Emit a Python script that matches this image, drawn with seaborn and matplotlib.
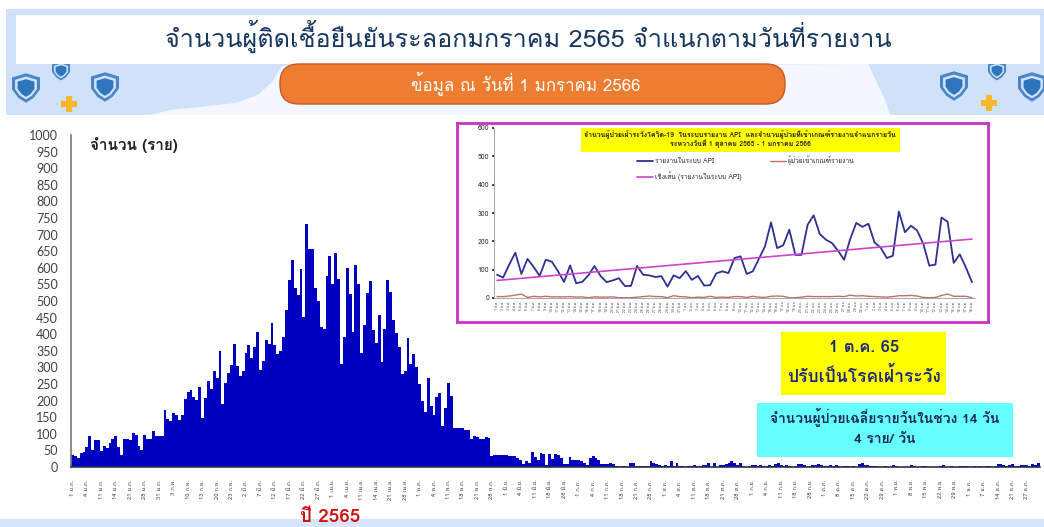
import matplotlib
matplotlib.use('Agg')
import matplotlib.pyplot as plt
import pandas as pd
import seaborn as sns
from matplotlib.patches import Rectangle, Polygon, FancyBboxPatch

# daily confirmed cases 2565
daily_cases = [37, 33, 28, 42, 45, 60, 92, 52, 80, 80, 47, 63, 58, 72, 83, 92, 60, 37, 83, 83, 80, 103, 95, 63, 52, 95, 83, 85, 107, 92, 92, 92,
               173, 145, 140, 162, 157, 142, 157, 205, 225, 232, 210, 203, 241, 148, 208, 258, 235, 288, 267, 348, 189, 252, 282, 308, 369, 305, 273, 288, 343, 366,
               328, 360, 407, 293, 320, 383, 370, 435, 367, 341, 348, 392, 473, 563, 623, 538, 518, 597, 453, 731, 657, 657, 540, 500, 422, 417, 576, 637, 550, 644, 567,
               310, 393, 600, 520, 407, 608, 552, 343, 427, 523, 561, 413, 372, 457, 317, 415, 563, 526, 442, 403, 360, 281, 290, 389, 310, 339, 301, 249, 200, 165, 267,
               185, 157, 212, 223, 122, 177, 252, 214, 118, 118, 118, 118, 110, 110, 83, 94, 89, 85, 83, 89, 86,
               32, 35, 35, 35, 36, 36, 34, 34, 34, 27, 21, 10, 19, 12, 45, 30, 22, 41, 38, 6, 40, 23, 39, 35, 28, 10, 10, 31, 21, 22, 22, 17, 11, 7, 28, 34, 27, 20, 10, 8, 8, 13, 9, 2,
               0, 2, 4, 0, 11, 11, 4, 4, 4, 4, 4, 17, 11, 9, 7, 4, 7, 4, 17, 4, 11, 4, 2, 0, 3, 4, 7, 4, 4, 7, 7, 11, 0, 11, 0, 6, 6, 10, 13, 17, 13, 7, 11, 4, 0, 4, 6, 6,
               3, 7, 4, 2, 6, 4, 8, 12, 5, 3, 7, 4, 1, 3, 10, 10, 5, 0, 2, 7, 5, 8, 6, 3, 2, 5, 4, 7, 2, 0, 4, 3, 1, 2, 0, 8, 11, 6, 5, 3, 2, 2, 0, 1, 3, 0, 0, 5, 2, 1, 0, 0, 1, 6, 2, 0, 0, 2, 4, 0, 1, 0, 0, 3, 5, 1, 0, 3, 1, 0, 2, 4, 2, 0, 0, 3, 1, 2, 0, 2, 4, 1, 3, 8, 10, 6, 2, 5, 9, 4, 3, 6, 5, 7, 4, 8, 6, 11]

date_labels = ['1 ม.ค.', '4 ม.ค.', '11 ม.ค.', '14 ม.ค.', '21 ม.ค.', '28 ม.ค.', '31 ม.ค.',
               '3 ก.พ.', '10 ก.พ.', '13 ก.พ.', '20 ก.พ.', '23 ก.พ.',
               '2 มี.ค.', '7 มี.ค.', '12 มี.ค.', '17 มี.ค.', '22 มี.ค.', '27 มี.ค.',
               '1 เม.ย.', '4 เม.ย.', '11 เม.ย.', '14 เม.ย.', '21 เม.ย.', '28 เม.ย.',
               '1 พ.ค.', '4 พ.ค.', '11 พ.ค.', '18 พ.ค.', '21 พ.ค.', '28 พ.ค.',
               '1 มิ.ย.', '4 มิ.ย.', '11 มิ.ย.', '18 มิ.ย.', '28 มิ.ย.',
               '1 ก.ค.', '4 ก.ค.', '11 ก.ค.', '18 ก.ค.', '21 ก.ค.', '28 ก.ค.',
               '1 ส.ค.', '4 ส.ค.', '11 ส.ค.', '18 ส.ค.', '21 ส.ค.', '28 ส.ค.',
               '1 ก.ย.', '4 ก.ย.', '11 ก.ย.', '18 ก.ย.', '28 ก.ย.',
               '1 ต.ค.', '8 ต.ค.', '15 ต.ค.', '22 ต.ค.', '29 ต.ค.',
               '1 พ.ย.', '8 พ.ย.', '15 พ.ย.', '22 พ.ย.', '29 พ.ย.',
               '1 ธ.ค.', '7 ธ.ค.', '14 ธ.ค.', '21 ธ.ค.', '27 ธ.ค.']

# inset series, 1 Oct 2565 - 1 Jan 2566
api_cases = [82, 72, 118, 160, 85, 138, 110, 78, 135, 128, 95, 57, 115, 52, 57, 80, 113, 78, 56, 62, 70, 42, 43, 113, 82, 80, 74, 77, 40, 80, 70, 95, 64, 78, 44, 45, 87,
             94, 88, 141, 147, 85, 94, 138, 182, 267, 176, 186, 241, 152, 152, 258, 292, 226, 206, 194, 167, 135, 208, 265, 251, 262, 196, 178, 141, 149, 305, 232, 255, 238, 192, 114, 118, 284, 269, 124, 154, 108, 56]
criteria_cases = [5, 5, 7, 10, 14, 2, 6, 4, 6, 4, 4, 4, 5, 3, 4, 1, 4, 3, 3, 4, 1, 1, 1, 3, 5, 7, 5, 5, 1, 8, 5, 4, 1, 3, 2, 6, 2,
                  3, 2, 5, 5, 2, 6, 3, 2, 6, 7, 6, 1, 1, 3, 6, 5, 5, 5, 5, 6, 5, 10, 7, 8, 6, 5, 4, 3, 5, 8, 8, 9, 7, 2, 1, 2, 9, 14, 6, 6, 6, 1]
trend_days = [0, 78]
trend_values = [62, 208]
inset_labels = [f'{d} ต.ค.' for d in range(1, 32)] + [f'{d} พ.ย.' for d in range(1, 31)] + [f'{d} ธ.ค.' for d in range(1, 19)]

sns.set_theme(style='white')
plt.rcParams['font.family'] = ['Loma', 'Noto Sans Thai', 'DejaVu Sans']

W, H = 1044, 527
fig = plt.figure(figsize=(W / 100, H / 100), dpi=100, facecolor='white')


def box(left, top, right, bottom):
    return [left / W, 1 - bottom / H, (right - left) / W, (bottom - top) / H]


# background layer in pixel coordinates
bg = fig.add_axes([0, 0, 1, 1], zorder=0)
bg.set_xlim(0, W)
bg.set_ylim(H, 0)
bg.axis('off')
bg.add_patch(Rectangle((6, 9), W - 6, 106, color='#CFE2F9', lw=0))
bg.add_patch(Polygon([(150, 115), (170, 110), (200, 107), (235, 103), (258, 95), (272, 82), (282, 66), (868, 64), (878, 85), (885, 100), (890, 115)], color='#F4F8FE', lw=0))
bg.add_patch(Rectangle((0, 519), W, 8, color='#D6E6FA', lw=0))


def shield(cx, cy, s):
    outer = [(-1, -.75), (0, -1.05), (1, -.75), (1, .1), (.55, .7), (0, 1.05), (-.55, .7), (-1, .1)]
    bg.add_patch(Polygon([(cx + x * s, cy + y * s) for x, y in outer], color='#4A86C5', lw=0))
    bg.add_patch(Polygon([(cx + x * s * .78, cy + y * s * .78) for x, y in outer], color='#CFE2F9', lw=0))
    bg.add_patch(Polygon([(cx + x * s * .6, cy + y * s * .6) for x, y in outer], color='#2F75BD', lw=0))


def plus(cx, cy):
    bg.add_patch(Rectangle((cx - 8, cy - 3), 16, 6, color='#F9B62A', lw=0))
    bg.add_patch(Rectangle((cx - 3, cy - 8), 6, 16, color='#F9B62A', lw=0))


for cx, cy, s in [(26, 88, 14), (61, 71, 9), (105, 87, 14), (954, 86, 14), (997, 71, 9), (1032, 87, 14)]:
    shield(cx, cy, s)
plus(69, 104)
plus(989, 103)

bg.add_patch(Rectangle((16, 15), 1024, 49, color='white', lw=0))
bg.text(528, 36, 'จำนวนผู้ติดเชื้อยืนยันระลอกมกราคม 2565 จำแนกตามวันที่รายงาน', fontsize=18.1, color='#17375E', ha='center', va='center')
bg.add_patch(FancyBboxPatch((280, 64), 505, 40, boxstyle='round,pad=0,rounding_size=19', fc='#ED7D31', ec='#C8562A', lw=1))
bg.text(526, 83, 'ข้อมูล ณ วันที่ 1 มกราคม 2566', fontsize=12.2, color='white', ha='center', va='center')

bg.add_patch(Rectangle((781, 332), 165, 63, color='#FFFF00', lw=0))
bg.text(864, 347, '1 ต.ค. 65', fontsize=12, fontweight='bold', color='#1F2A78', ha='center', va='center')
bg.text(864, 376, 'ปรับเป็นโรคเฝ้าระวัง', fontsize=12.5, fontweight='bold', color='#1F2A78', ha='center', va='center')
bg.add_patch(Rectangle((757, 403), 256, 54, color='#66FFFF', lw=0))
bg.text(885, 417, 'จำนวนผู้ป่วยเฉลี่ยรายวันในช่วง 14 วัน', fontsize=10, fontweight='bold', color='#1F2A50', ha='center', va='center')
bg.text(885, 440, '4 ราย/ วัน', fontsize=10, fontweight='bold', color='#1F2A50', ha='center', va='center')
bg.text(330, 517, 'ปี 2565', fontsize=13.5, fontweight='bold', color='#D01010', ha='center', va='center')
bg.text(90, 145, 'จำนวน (ราย)', fontsize=11, fontweight='bold', color='#222222', ha='left', va='center')

# main bar chart
ax = fig.add_axes(box(71, 135, 1040, 467), zorder=1)
ax.patch.set_alpha(0)
df = pd.DataFrame({'day': range(len(daily_cases)), 'cases': daily_cases})
sns.barplot(data=df, x='day', y='cases', color='#0000C0', saturation=1, width=1, linewidth=0, ax=ax)
ax.set_xlim(-0.5, len(daily_cases) - 0.5)
ax.set_ylim(0, 1000)
ax.set_yticks(range(0, 1001, 50))
ax.tick_params(axis='y', length=0, labelsize=9, labelcolor='#404040', pad=9.5)
for t in ax.get_yticklabels():
    t.set_family('Lato')
ax.set_xticks(list(range(0, 5 * len(date_labels), 5)))
ax.set_xticklabels(date_labels, rotation=90, fontsize=4.2, color='#444444')
ax.tick_params(axis='x', length=0, pad=9)
ax.set_xlabel('')
ax.set_ylabel('')
sns.despine(ax=ax)
ax.spines['left'].set_color('#777777')
ax.spines['left'].set_linewidth(1.2)
ax.spines['bottom'].set_color('#303050')
ax.spines['bottom'].set_linewidth(1.2)

# inset frame and chart
frame = fig.add_axes(box(457, 123, 988, 322), zorder=2)
frame.set_xticks([])
frame.set_yticks([])
for s in frame.spines.values():
    s.set_color('#C832C8')
    s.set_linewidth(2)

inset = fig.add_axes(box(494, 128, 975, 298), zorder=3)
inset.patch.set_alpha(0)
n = len(api_cases)
sns.lineplot(x=range(n), y=api_cases, color='#2E3192', lw=1.3, label='รายงานในระบบ API', ax=inset)
sns.lineplot(x=trend_days, y=trend_values, color='#CC44CC', lw=1.2, label='เชิงเส้น (รายงานในระบบ API)', ax=inset)
sns.lineplot(x=range(n), y=criteria_cases, color='#C0706A', lw=1, label='ผู้ป่วยเข้าเกณฑ์รายงาน', ax=inset)
inset.set_xlim(-0.5, n - 0.5)
inset.set_ylim(0, 600)
inset.set_yticks(range(0, 601, 100))
inset.tick_params(axis='y', length=1.5, labelsize=5, labelcolor='#333333', pad=2, left=True)
inset.set_xticks(range(n))
inset.set_xticklabels(inset_labels, rotation=90, fontsize=2.4, color='#444444')
inset.tick_params(axis='x', length=0, pad=2)
sns.despine(ax=inset)
inset.spines['left'].set_color('#999999')
inset.spines['bottom'].set_color('#999999')
inset.spines['left'].set_linewidth(0.6)
inset.spines['bottom'].set_linewidth(0.6)
inset.legend(loc='upper left', bbox_to_anchor=(0.285, 0.87), ncol=2, frameon=False, fontsize=4.8, columnspacing=4.2, handlelength=2.4, labelspacing=0.9, handletextpad=0.3)
inset.add_patch(Rectangle((581, 128), 319, 24, transform=bg.transData, color='#FFFF00', lw=0, zorder=5))
inset.text(740, 134, 'จำนวนผู้ป่วยเฝ้าระวังโควิด-19  ในระบบรายงาน API  และจำนวนผู้ป่วยที่เข้าเกณฑ์รายงานจำแนกรายวัน', transform=bg.transData, fontsize=5, fontweight='bold', ha='center', va='center', color='#222222', zorder=6)
inset.text(740, 144, 'ระหว่างวันที่ 1 ตุลาคม 2565 - 1 มกราคม 2566', transform=bg.transData, fontsize=5, fontweight='bold', ha='center', va='center', color='#222222', zorder=6)

fig.savefig('out.png', dpi=100)
